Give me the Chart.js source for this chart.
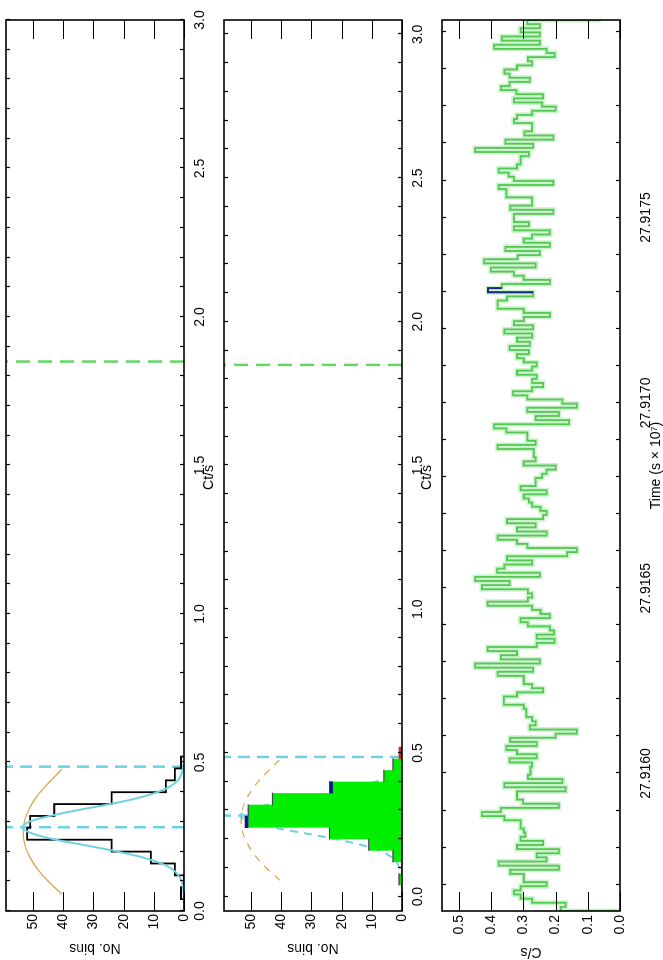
<!DOCTYPE html>
<html>
<head>
<meta charset="utf-8">
<script src="https://cdn.jsdelivr.net/npm/chart.js@4.4.1/dist/chart.umd.min.js"></script>
<style>
html, body { margin: 0; padding: 0; background: #fff; }
body { width: 663px; height: 960px; overflow: hidden; position: relative; }
/* the plot is laid out in landscape and turned a quarter turn, like the original page */
#sheet { position: absolute; left: 0; top: 0; width: 960px; height: 663px; background: #fff;
         transform-origin: 0 0; transform: translate(0px, 960px) rotate(-90deg); }
#sheet canvas { position: absolute; left: 0; }
</style>
</head>
<body>
<div id="sheet">
  <canvas id="histAll" width="960" height="215" style="top:0px"></canvas>
  <canvas id="histSel" width="960" height="215" style="top:218px"></canvas>
  <canvas id="lightCurve" width="960" height="227" style="top:436px"></canvas>
</div>
<script>
// ---- rate histogram (bins of 0.04 ct/s) ----
const binEdges   = [0, 0.04, 0.08, 0.12, 0.16, 0.20, 0.24, 0.28, 0.32, 0.36, 0.40, 0.44, 0.48, 0.52];
const countsAll  = [0, 1, 0, 3, 11, 24, 52, 51, 43, 24, 6, 3, 1];
const countsGood = [0, 1, 0, 3, 11, 24, 51, 51, 43, 23, 6, 3, 0];
const countsBlue = [0, 0, 0, 0, 0, 0, 1, 0, 0, 1, 0, 0, 0];
const countsRed  = [0, 0, 0, 0, 0, 0, 0, 0, 0, 0, 0, 0, 1];

// gaussian fit
const fitCt = [0, 0.04, 0.08, 0.10, 0.12, 0.14, 0.16, 0.18, 0.20, 0.22, 0.24, 0.26, 0.28, 0.30, 0.32, 0.34, 0.36, 0.38, 0.40, 0.42, 0.44, 0.46, 0.48, 0.50];
const fitN  = [0, 0, 0.3, 0.8, 1.8, 3.8, 7.5, 13.5, 22, 32, 42.5, 50, 53.5, 51.5, 44.5, 35, 24.5, 15.5, 8.8, 4.5, 2.1, 0.9, 0.3, 0.1];

// orange envelope curve
const envCt = [0.057, 0.10, 0.14, 0.18, 0.22, 0.267, 0.31, 0.35, 0.39, 0.43, 0.477];
const envN  = [40.5, 45, 48.5, 51, 52.7, 53.3, 52.7, 51, 48.5, 45, 40.5];

const fitLines = [0.282, 0.486];
const cutLine = 1.85;
const histMax = 59;

const ctTickPos = [];
for (let k = 0; k <= 30; k++) ctTickPos.push(k / 10);
const ctLabels = [0, 0.5, 1, 1.5, 2, 2.5, 3];
const countTicks = [0, 10, 20, 30, 40, 50];

// ---- light curve (time in units of 1e7 s) ----
const tStart = 27.915629;
const binWidth = 0.00001113;
const rate = [
  0.184, 0.169, 0.273, 0.309, 0.330, 0.309, 0.228, 0.299, 0.299, 0.341,
  0.190, 0.377, 0.228, 0.259, 0.190, 0.320, 0.239, 0.309, 0.294, 0.299,
  0.309, 0.309, 0.359, 0.429, 0.370, 0.190, 0.301, 0.320, 0.320, 0.169,
  0.359, 0.179, 0.286, 0.278, 0.278, 0.273, 0.343, 0.259, 0.320, 0.353,
  0.259, 0.341, 0.200, 0.134, 0.280, 0.262, 0.273, 0.291, 0.291, 0.299,
  0.361, 0.361, 0.320, 0.239, 0.273, 0.299, 0.299, 0.380, 0.270, 0.450,
  0.249, 0.370, 0.320, 0.411, 0.259, 0.203, 0.259, 0.205, 0.218, 0.286,
  0.309, 0.218, 0.247, 0.273, 0.411, 0.286, 0.273, 0.286, 0.429, 0.343,
  0.450, 0.249, 0.382, 0.359, 0.273, 0.351, 0.164, 0.134, 0.288, 0.320,
  0.380, 0.228, 0.320, 0.262, 0.351, 0.239, 0.228, 0.247, 0.273, 0.283,
  0.299, 0.228, 0.309, 0.262, 0.262, 0.242, 0.228, 0.200, 0.299, 0.262,
  0.268, 0.268, 0.380, 0.262, 0.288, 0.288, 0.353, 0.391, 0.158, 0.262,
  0.190, 0.288, 0.134, 0.179, 0.288, 0.332, 0.273, 0.239, 0.273, 0.259,
  0.320, 0.273, 0.259, 0.299, 0.320, 0.283, 0.343, 0.280, 0.320, 0.273,
  0.359, 0.270, 0.330, 0.299, 0.218, 0.299, 0.380, 0.380, 0.351, 0.270,
  0.410, 0.367, 0.218, 0.299, 0.330, 0.401, 0.262, 0.422, 0.318, 0.249,
  0.356, 0.218, 0.299, 0.273, 0.218, 0.330, 0.283, 0.330, 0.330, 0.207,
  0.341, 0.273, 0.273, 0.353, 0.353, 0.377, 0.207, 0.330, 0.346, 0.377,
  0.320, 0.309, 0.309, 0.283, 0.450, 0.270, 0.356, 0.207, 0.297, 0.273,
  0.273, 0.330, 0.320, 0.273, 0.200, 0.242, 0.330, 0.239, 0.322, 0.370,
  0.343, 0.280, 0.343, 0.359, 0.320, 0.273, 0.286, 0.203, 0.228, 0.391,
  0.249, 0.367, 0.249, 0.309, 0.249, 0.288
];
const endRate = 0.06;     // partial last bin, cut by the frame
const flareBin = 150;     // bin drawn in dark blue
const timeLabels = [27.9160, 27.9165, 27.9170, 27.9175];
const rateTicks = [0, 0.1, 0.2, 0.3, 0.4, 0.5];
const rateMax = 0.553;

const FONT = { family: "'Liberation Sans Narrow', 'Arial Narrow', 'Liberation Sans', Arial, sans-serif", size: 14 };

// frame, inward ticks and axis titles
const frameTicks = {
  id: 'frameTicks',
  afterDatasetsDraw(chart, args, opts) {
    const { ctx, chartArea: a, scales } = chart;
    ctx.save();
    ctx.strokeStyle = '#000';
    ctx.lineWidth = 1.2;
    ctx.beginPath();
    scales.x.ticks.forEach(t => {
      const px = Math.round(scales.x.getPixelForValue(t.value)) + 0.5;
      ctx.moveTo(px, a.bottom); ctx.lineTo(px, a.bottom - opts.xLen);
      ctx.moveTo(px, a.top); ctx.lineTo(px, a.top + opts.xLen);
    });
    scales.y.ticks.forEach(t => {
      const py = Math.round(scales.y.getPixelForValue(t.value)) + 0.5;
      ctx.moveTo(a.left, py); ctx.lineTo(a.left + opts.yLen, py);
      ctx.moveTo(a.right, py); ctx.lineTo(a.right - opts.yLen, py);
    });
    ctx.stroke();
    ctx.lineWidth = 1.6;
    ctx.strokeRect(a.left, a.top, a.width, a.height);

    ctx.fillStyle = '#000';
    ctx.font = FONT.size + 'px ' + FONT.family;
    ctx.textAlign = 'center';
    ctx.textBaseline = 'middle';
    (opts.titles || []).forEach(tt => {
      if (tt.side === 'left') {
        ctx.save();
        ctx.translate(tt.x, (a.top + a.bottom) / 2);
        ctx.rotate(-Math.PI / 2);
        ctx.fillText(tt.text, 0, 0);
        ctx.restore();
      } else {
        ctx.fillText(tt.text, (a.left + a.right) / 2 + tt.dx, a.bottom + tt.dy);
      }
    });
    ctx.restore();
  }
};

function stepPoints(edges, counts) {
  const pts = counts.map((c, i) => ({ x: edges[i], y: c }));
  pts.push({ x: edges[edges.length - 1], y: 0 });
  return pts;
}
function curvePoints(xs, ys) { return xs.map((x, i) => ({ x: x, y: ys[i] })); }
function vline(v, top) { return [{ x: v, y: 0 }, { x: v, y: top }]; }
function floatingBars(edges, base, extra) {
  return extra.map((e, i) => ({ x: (edges[i] + edges[i + 1]) / 2, y: [base[i], base[i] + e] }));
}

function fixedX(h) {
  return s => { s.height = h; s.paddingLeft = 0; s.paddingRight = 0; };
}
function fixedY(w) {
  return s => { s.width = w; s.paddingTop = 0; s.paddingBottom = 0; };
}

function histScales() {
  return {
    x: {
      type: 'linear', min: 0, max: 3,
      grid: { display: false, drawTicks: false }, border: { display: false },
      afterBuildTicks: s => { s.ticks = ctTickPos.map(v => ({ value: v })); },
      ticks: { autoSkip: false, maxRotation: 0, minRotation: 0, padding: 8, color: '#000', font: FONT,
               callback: v => ctLabels.includes(Math.round(v * 10) / 10) ? v.toFixed(1) : '' },
      afterFit: fixedX(31)
    },
    y: {
      type: 'linear', min: 0, max: histMax,
      grid: { display: false, drawTicks: false }, border: { display: false },
      afterBuildTicks: s => { s.ticks = countTicks.map(v => ({ value: v })); },
      ticks: { padding: 3, color: '#000', font: FONT, callback: v => String(v) },
      afterFit: fixedY(49)
    }
  };
}

function baseOptions(scales, titles) {
  return {
    responsive: false, animation: false, events: [],
    devicePixelRatio: 1,
    layout: { padding: { top: 6, right: 20, bottom: 0, left: 0 } },
    elements: { point: { radius: 0 }, line: { fill: false } },
    plugins: { legend: { display: false }, tooltip: { enabled: false },
               frameTicks: { xLen: 4, yLen: 19, titles: titles } },
    scales: scales
  };
}

const cyan = '#6fd2e0';
const tan = '#d9a54a';
const dashGreen = '#62d862';

// top panel: all bins
new Chart(document.getElementById('histAll'), {
  type: 'line',
  data: {
    datasets: [
      { data: vline(cutLine, histMax), borderColor: dashGreen, borderWidth: 2.5, borderDash: [14, 8], order: 6 },
      ...fitLines.map(v => ({ data: vline(v, histMax), borderColor: cyan, borderWidth: 2.5, borderDash: [12, 7], order: 6 })),
      { data: curvePoints(envCt, envN), borderColor: tan, borderWidth: 1.2, tension: 0.4, order: 4 },
      { data: stepPoints(binEdges, countsAll), stepped: true, borderColor: '#000', borderWidth: 1.8, order: 3 },
      { data: curvePoints(fitCt, fitN), borderColor: cyan, borderWidth: 2, cubicInterpolationMode: 'monotone', order: 1 }
    ]
  },
  options: baseOptions(histScales(), [
    { side: 'left', text: 'No. bins', x: 12 },
    { side: 'bottom', text: 'Ct/s', dx: -12, dy: 25 }
  ]),
  plugins: [frameTicks]
});

// middle panel: selected bins
new Chart(document.getElementById('histSel'), {
  type: 'line',
  data: {
    datasets: [
      { data: vline(cutLine, histMax), borderColor: dashGreen, borderWidth: 2.5, borderDash: [14, 8], order: 6 },
      ...fitLines.map(v => ({ data: vline(v, histMax), borderColor: cyan, borderWidth: 2.5, borderDash: [12, 7], order: 6 })),
      { data: curvePoints(fitCt, fitN), borderColor: cyan, borderWidth: 2, borderDash: [8, 6], cubicInterpolationMode: 'monotone', order: 5 },
      { data: stepPoints(binEdges, countsGood), stepped: true, borderWidth: 0, borderColor: 'rgba(0,0,0,0)',
        backgroundColor: '#00ee00', fill: 'origin', order: 4 },
      { type: 'bar', data: floatingBars(binEdges, countsGood, countsBlue), backgroundColor: '#0a1f78',
        grouped: false, barPercentage: 1, categoryPercentage: 1, borderWidth: 0, order: 3 },
      { type: 'bar', data: floatingBars(binEdges, countsGood.map((g, i) => g + countsBlue[i]), countsRed), backgroundColor: '#c8281e',
        grouped: false, barPercentage: 1, categoryPercentage: 1, borderWidth: 0, order: 3 },
      { data: curvePoints(envCt, envN), borderColor: tan, borderWidth: 1.2, borderDash: [7, 7], tension: 0.4, order: 1 }
    ]
  },
  options: baseOptions(histScales(), [
    { side: 'left', text: 'No. bins', x: 12 },
    { side: 'bottom', text: 'Ct/s', dx: -12, dy: 25 }
  ]),
  plugins: [frameTicks]
});

// bottom panel: light curve
const lcPoints = [{ x: tStart - binWidth, y: 0 }];
rate.forEach((r, i) => lcPoints.push({ x: tStart + i * binWidth, y: r }));
lcPoints.push({ x: tStart + rate.length * binWidth, y: endRate });
lcPoints.push({ x: tStart + (rate.length + 1) * binWidth, y: endRate });

const f0 = tStart + flareBin * binWidth;
const f1 = f0 + binWidth;
const flarePoints = [
  { x: f0, y: rate[flareBin - 1] }, { x: f0, y: rate[flareBin] },
  { x: f1, y: rate[flareBin] }, { x: f1, y: rate[flareBin + 1] }
];

const timeTickPos = [];
for (let k = 279156; k <= 279181; k++) {
  const v = k / 10000;
  if (v >= tStart && v <= tStart + rate.length * binWidth) timeTickPos.push(v);
}

new Chart(document.getElementById('lightCurve'), {
  type: 'line',
  data: {
    datasets: [
      { data: lcPoints, stepped: true, borderColor: 'rgba(140,228,140,0.45)', borderWidth: 5, order: 3 },
      { data: lcPoints, stepped: true, borderColor: '#55c655', borderWidth: 1.8, order: 2 },
      { data: flarePoints, borderColor: '#1b2a80', borderWidth: 2, order: 1 }
    ]
  },
  options: baseOptions({
    x: {
      type: 'linear', min: tStart, max: tStart + rate.length * binWidth,
      grid: { display: false, drawTicks: false }, border: { display: false },
      afterBuildTicks: s => { s.ticks = timeTickPos.map(v => ({ value: v })); },
      ticks: { autoSkip: false, maxRotation: 0, minRotation: 0, padding: 18, color: '#000', font: FONT,
               callback: v => timeLabels.some(l => Math.abs(l - v) < 1e-7) ? v.toFixed(4) : '' },
      afterFit: fixedX(43)
    },
    y: {
      type: 'linear', min: 0, max: rateMax,
      grid: { display: false, drawTicks: false }, border: { display: false },
      afterBuildTicks: s => { s.ticks = rateTicks.map(v => ({ value: v })); },
      ticks: { padding: 4, color: '#000', font: FONT, callback: v => v.toFixed(1) },
      afterFit: fixedY(49)
    }
  }, [
    { side: 'left', text: 'C/s', x: 8 },
    { side: 'bottom', text: 'Time (s \u00d7 10\u2077)', dx: 0, dy: 36 }
  ]),
  plugins: [frameTicks]
});
</script>
</body>
</html>
